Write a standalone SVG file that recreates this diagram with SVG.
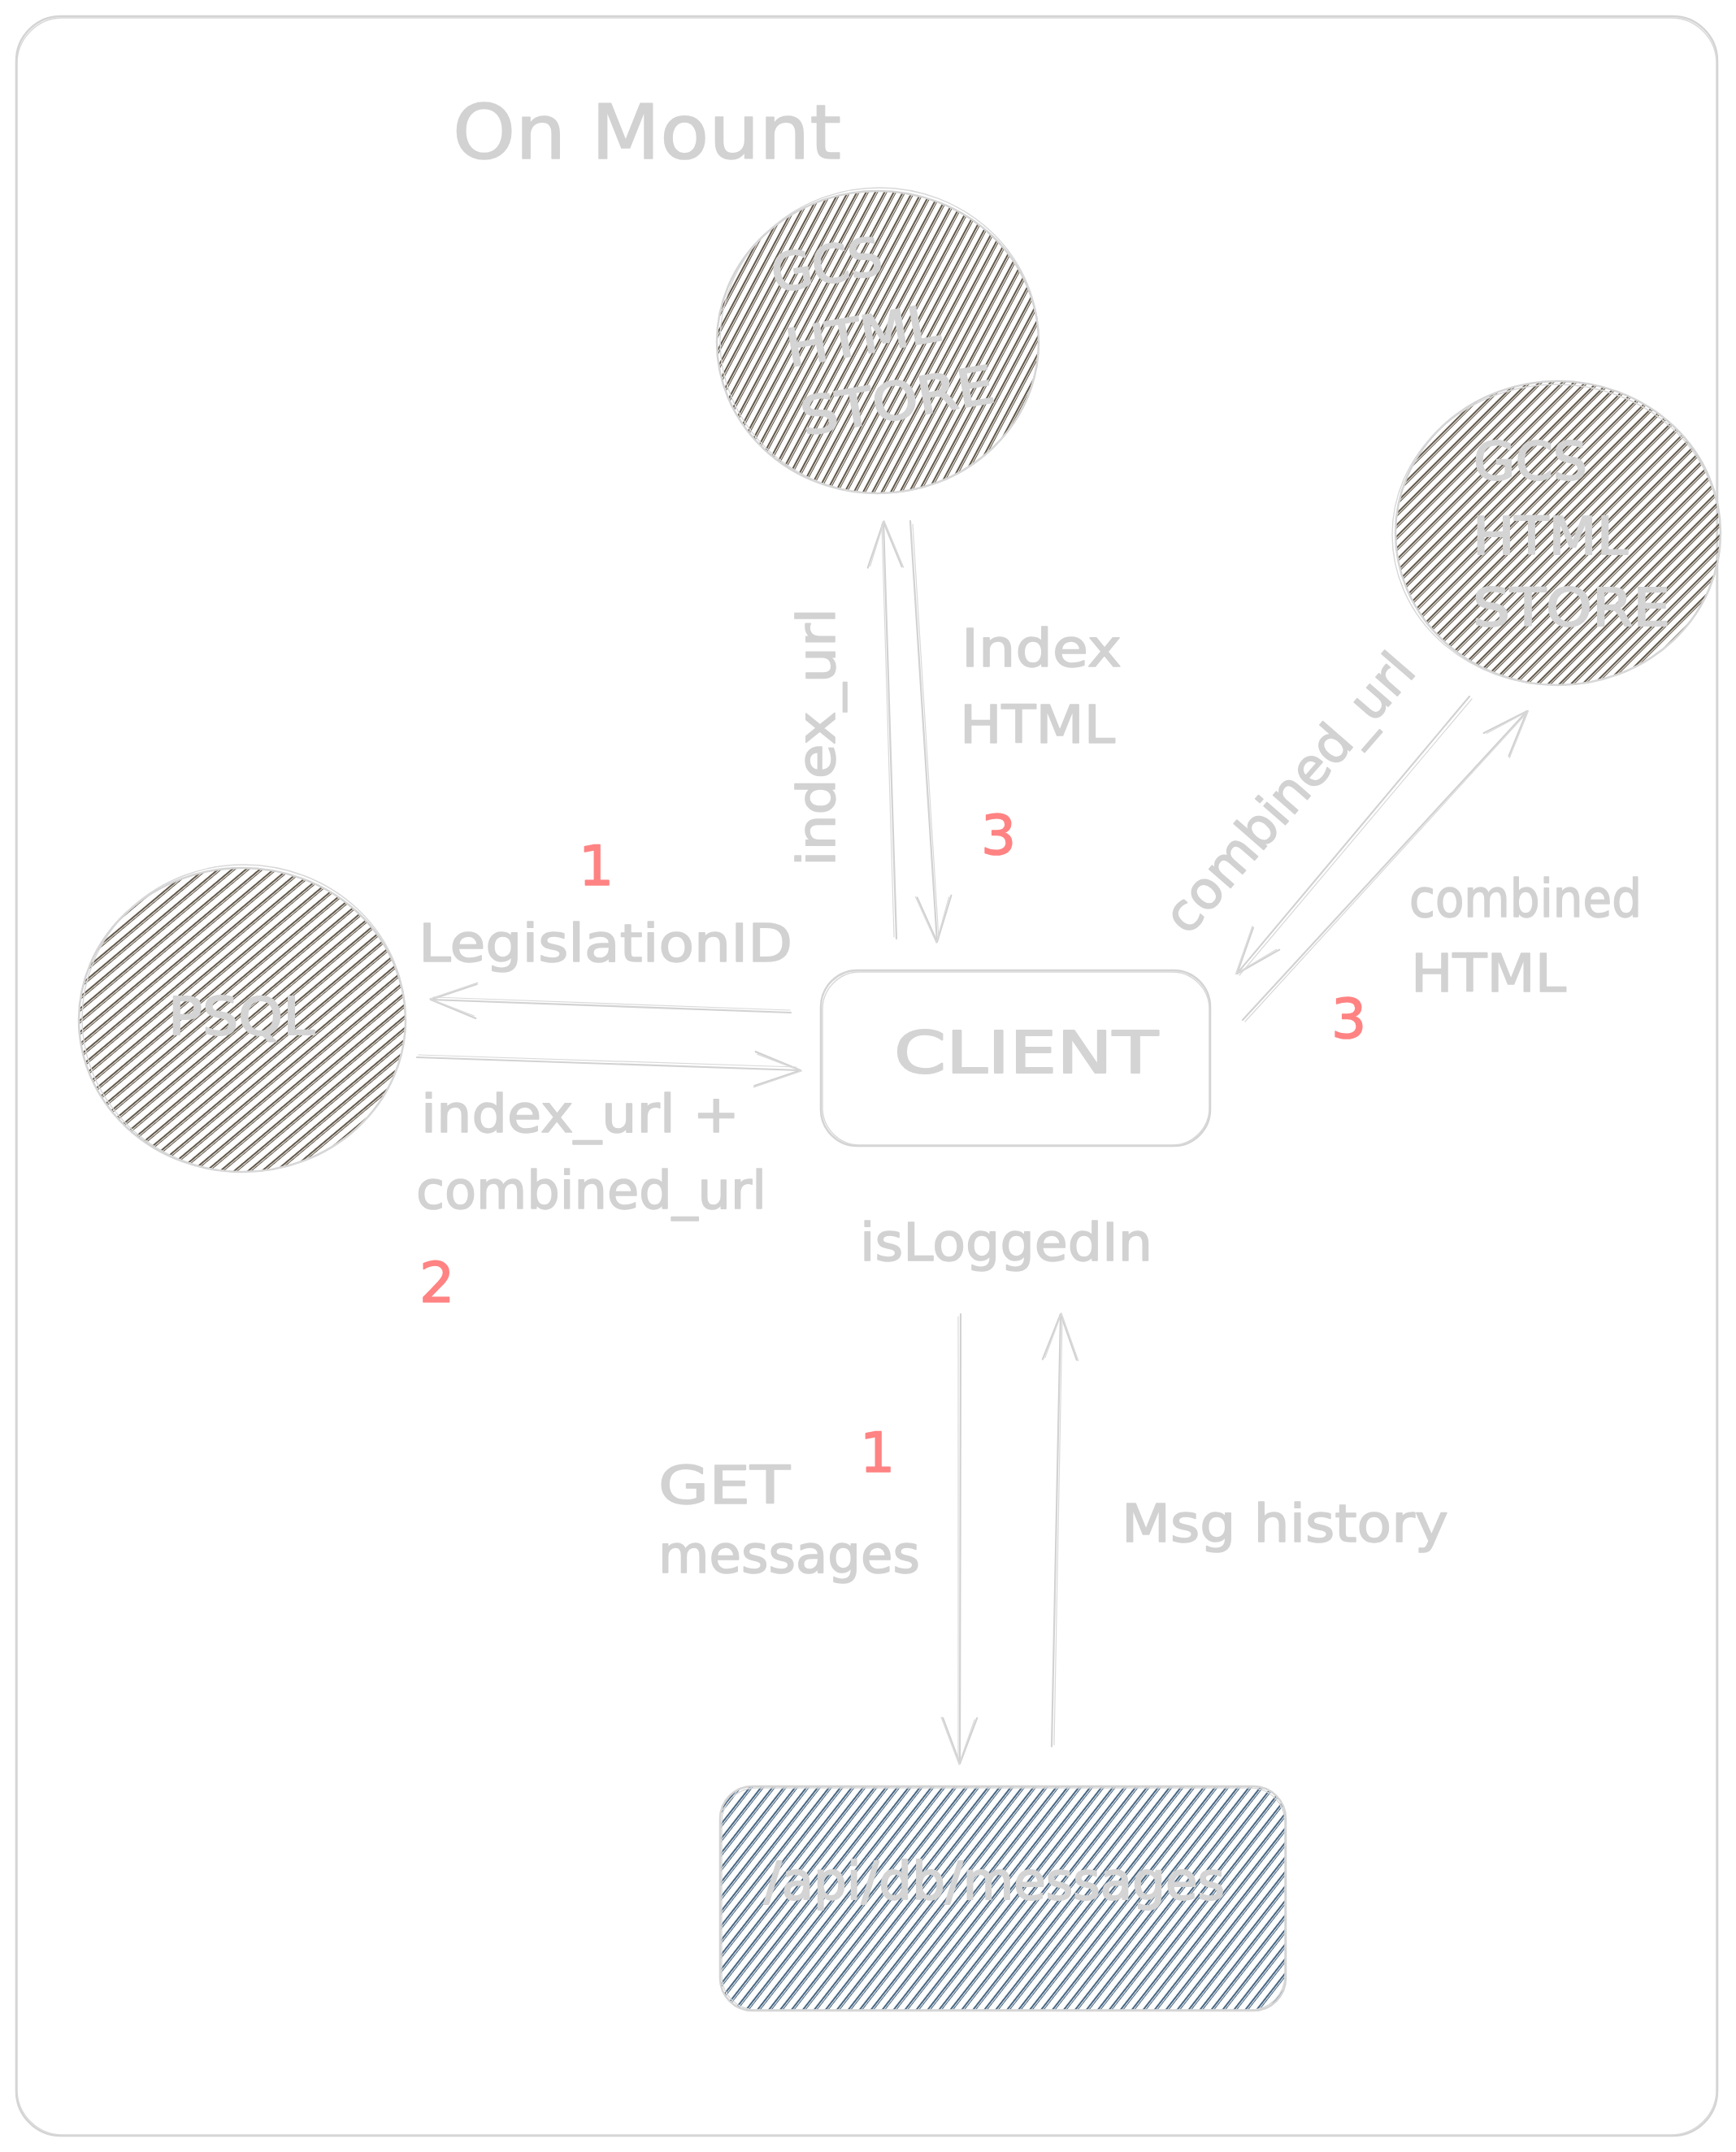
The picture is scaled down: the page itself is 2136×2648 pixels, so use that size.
<svg xmlns="http://www.w3.org/2000/svg" width="2136" height="2648" viewBox="0 0 2136 2648">
<defs>
<style>
.lbl{font-family:"DejaVu Sans","Liberation Sans",sans-serif;font-size:64px;fill:#d2d2d2;stroke:#d2d2d2;stroke-width:1.6;stroke-linejoin:round}
.num{font-family:"DejaVu Sans","Liberation Sans",sans-serif;font-size:68px;fill:#ff8383;stroke:#ff8383;stroke-width:1.6;stroke-linejoin:round}
.ntx{font-family:"DejaVu Sans","Liberation Sans",sans-serif;font-size:64px;fill:#d4d4d4;stroke:#d4d4d4;stroke-width:2;stroke-linejoin:round}
.outline{fill:none;stroke:#d4d4d4;stroke-width:2.5}
.outline2{fill:none;stroke:#d8d8d8;stroke-width:1.4}
.edge{fill:none;stroke:#d2d2d2;stroke-width:2.2;stroke-linecap:round}
.edge2{fill:none;stroke:#dadada;stroke-width:1.2;stroke-linecap:round}
</style>
<pattern id="hBrownSteep" patternUnits="userSpaceOnUse" width="10" height="10" patternTransform="rotate(28)">
<line x1="2" y1="0" x2="2" y2="10" stroke="#3a2e1c" stroke-width="1.6"/>
<line x1="4.4" y1="0" x2="4.4" y2="10" stroke="#3a2e1c" stroke-width="0.9"/>
</pattern>
<pattern id="hBrown45" patternUnits="userSpaceOnUse" width="10" height="10" patternTransform="rotate(45)">
<line x1="2" y1="0" x2="2" y2="10" stroke="#3a2e1c" stroke-width="1.6"/>
<line x1="4.4" y1="0" x2="4.4" y2="10" stroke="#3a2e1c" stroke-width="0.9"/>
</pattern>
<pattern id="hBrownFlat" patternUnits="userSpaceOnUse" width="11" height="11" patternTransform="rotate(50)">
<line x1="2" y1="0" x2="2" y2="11" stroke="#3a2e1c" stroke-width="1.6"/>
<line x1="4.4" y1="0" x2="4.4" y2="11" stroke="#3a2e1c" stroke-width="0.9"/>
</pattern>
<pattern id="hBlue" patternUnits="userSpaceOnUse" width="11" height="11" patternTransform="rotate(38)">
<line x1="2" y1="0" x2="2" y2="11" stroke="#183f63" stroke-width="1.6"/>
<line x1="4.4" y1="0" x2="4.4" y2="11" stroke="#183f63" stroke-width="0.9"/>
</pattern>
<marker id="head" markerUnits="userSpaceOnUse" markerWidth="80" markerHeight="60" refX="0" refY="0" viewBox="-70 -30 80 60" orient="auto" overflow="visible">
<path d="M -56 -21 L 0 0 L -56 21" fill="none" stroke="#d2d2d2" stroke-width="2.2" stroke-linecap="round" stroke-linejoin="round"/>
<path d="M -54 -18 L 1 1 L -57 23" fill="none" stroke="#dadada" stroke-width="1.2" stroke-linecap="round"/>
</marker>
</defs>
<rect x="0" y="0" width="2136" height="2648" fill="#ffffff"/>

<g id="frame">
<rect x="20" y="20" width="2093" height="2608" rx="55" fill="#ffffff" class="outline"/>
<rect x="21" y="22" width="2091" height="2605" rx="56" class="outline2"/>
</g>

<g id="title">
<text class="lbl" x="557" y="195" style="font-size:92px" textLength="478" lengthAdjust="spacingAndGlyphs">On Mount</text>
</g>

<g id="gcs-top">
<ellipse cx="1080" cy="421" rx="198" ry="186" fill="url(#hBrownSteep)"/>
<ellipse cx="1080" cy="421" rx="198" ry="186" class="outline"/>
<ellipse cx="1082" cy="419" rx="196" ry="188" class="outline2"/>
<text class="ntx" x="1021" y="348" text-anchor="middle" textLength="137" lengthAdjust="spacingAndGlyphs" transform="rotate(-10 1021 348)">GCS</text>
<text class="ntx" x="1065" y="435" text-anchor="middle" textLength="190" lengthAdjust="spacingAndGlyphs" transform="rotate(-10 1065 435)">HTML</text>
<text class="ntx" x="1108" y="515" text-anchor="middle" textLength="240" lengthAdjust="spacingAndGlyphs" transform="rotate(-10 1108 515)">STORE</text>
</g>

<g id="gcs-right">
<ellipse cx="1917" cy="656" rx="200" ry="187" fill="url(#hBrown45)"/>
<ellipse cx="1917" cy="656" rx="200" ry="187" class="outline"/>
<ellipse cx="1915" cy="658" rx="202" ry="185" class="outline2"/>
<text class="ntx" x="1813" y="590" textLength="140" lengthAdjust="spacingAndGlyphs">GCS</text>
<text class="ntx" x="1812" y="682" textLength="191" lengthAdjust="spacingAndGlyphs">HTML</text>
<text class="ntx" x="1812" y="770" textLength="243" lengthAdjust="spacingAndGlyphs">STORE</text>
</g>

<g id="psql">
<ellipse cx="298" cy="1255" rx="201" ry="187" fill="url(#hBrownFlat)"/>
<ellipse cx="298" cy="1255" rx="201" ry="187" class="outline"/>
<ellipse cx="300" cy="1253" rx="199" ry="189" class="outline2"/>
<text class="ntx" x="207" y="1273" textLength="180" lengthAdjust="spacingAndGlyphs">PSQL</text>
</g>

<g id="client">
<rect x="1010" y="1194" width="479" height="216" rx="45" fill="#ffffff" class="outline"/>
<rect x="1012" y="1196" width="476" height="213" rx="46" class="outline2"/>
<text class="ntx" x="1100" y="1320" style="font-size:72px" textLength="325" lengthAdjust="spacingAndGlyphs">CLIENT</text>
</g>

<g id="messages">
<rect x="886" y="2198" width="696" height="276" rx="40" fill="url(#hBlue)"/>
<rect x="886" y="2198" width="696" height="276" rx="40" class="outline"/>
<rect x="888" y="2200" width="693" height="273" rx="42" class="outline2"/>
<text class="ntx" x="940" y="2337" textLength="567" lengthAdjust="spacingAndGlyphs">/api/db/messages</text>
</g>

<g id="connectors">
<path class="edge" d="M 1103 1155 L 1087 642" marker-end="url(#head)"/>
<path class="edge2" d="M 1100 1153 L 1085 645"/>
<path class="edge" d="M 1120 641 L 1153 1159" marker-end="url(#head)"/>
<path class="edge2" d="M 1123 645 L 1155 1155"/>
<path class="edge" d="M 1808 857 L 1522 1198" marker-end="url(#head)"/>
<path class="edge2" d="M 1811 860 L 1525 1200"/>
<path class="edge" d="M 1529 1255 L 1879 875" marker-end="url(#head)"/>
<path class="edge2" d="M 1532 1257 L 1877 879"/>
<path class="edge" d="M 973 1246 L 530 1230" marker-end="url(#head)"/>
<path class="edge2" d="M 972 1243 L 533 1227"/>
<path class="edge" d="M 513 1301 L 985 1317" marker-end="url(#head)"/>
<path class="edge2" d="M 515 1298 L 980 1313"/>
<path class="edge" d="M 1182 1617 L 1181 2170" marker-end="url(#head)"/>
<path class="edge2" d="M 1179 1620 L 1179 2165"/>
<path class="edge" d="M 1294 2149 L 1305 1617" marker-end="url(#head)"/>
<path class="edge2" d="M 1297 2147 L 1307 1622"/>
</g>

<g id="labels">
<text class="lbl" transform="translate(1027 907) rotate(-90)" text-anchor="middle" textLength="318" lengthAdjust="spacingAndGlyphs">index_url</text>
<text class="lbl" x="1183" y="820" textLength="197" lengthAdjust="spacingAndGlyphs">Index</text>
<text class="lbl" x="1181" y="914" textLength="191" lengthAdjust="spacingAndGlyphs">HTML</text>
<text class="num" x="1207" y="1051">3</text>
<text class="num" x="712" y="1089">1</text>
<text class="lbl" x="515" y="1183" textLength="460" lengthAdjust="spacingAndGlyphs">LegislationID</text>
<text class="lbl" x="518" y="1393" textLength="392" lengthAdjust="spacingAndGlyphs">index_url +</text>
<text class="lbl" x="512" y="1487" textLength="431" lengthAdjust="spacingAndGlyphs">combined_url</text>
<text class="num" x="516" y="1602">2</text>
<text class="lbl" transform="translate(1603 990) rotate(-49)" text-anchor="middle" textLength="431" lengthAdjust="spacingAndGlyphs">combined_url</text>
<text class="lbl" x="1734" y="1128" textLength="286" lengthAdjust="spacingAndGlyphs">combined</text>
<text class="lbl" x="1736" y="1220" textLength="191" lengthAdjust="spacingAndGlyphs">HTML</text>
<text class="num" x="1638" y="1277">3</text>
<text class="lbl" x="1058" y="1551" textLength="360" lengthAdjust="spacingAndGlyphs">isLoggedIn</text>
<text class="num" x="1058" y="1811">1</text>
<text class="lbl" x="810" y="1850" textLength="162" lengthAdjust="spacingAndGlyphs">GET</text>
<text class="lbl" x="810" y="1935" textLength="322" lengthAdjust="spacingAndGlyphs">messages</text>
<text class="lbl" x="1380" y="1897" textLength="402" lengthAdjust="spacingAndGlyphs">Msg history</text>
</g>
</svg>
